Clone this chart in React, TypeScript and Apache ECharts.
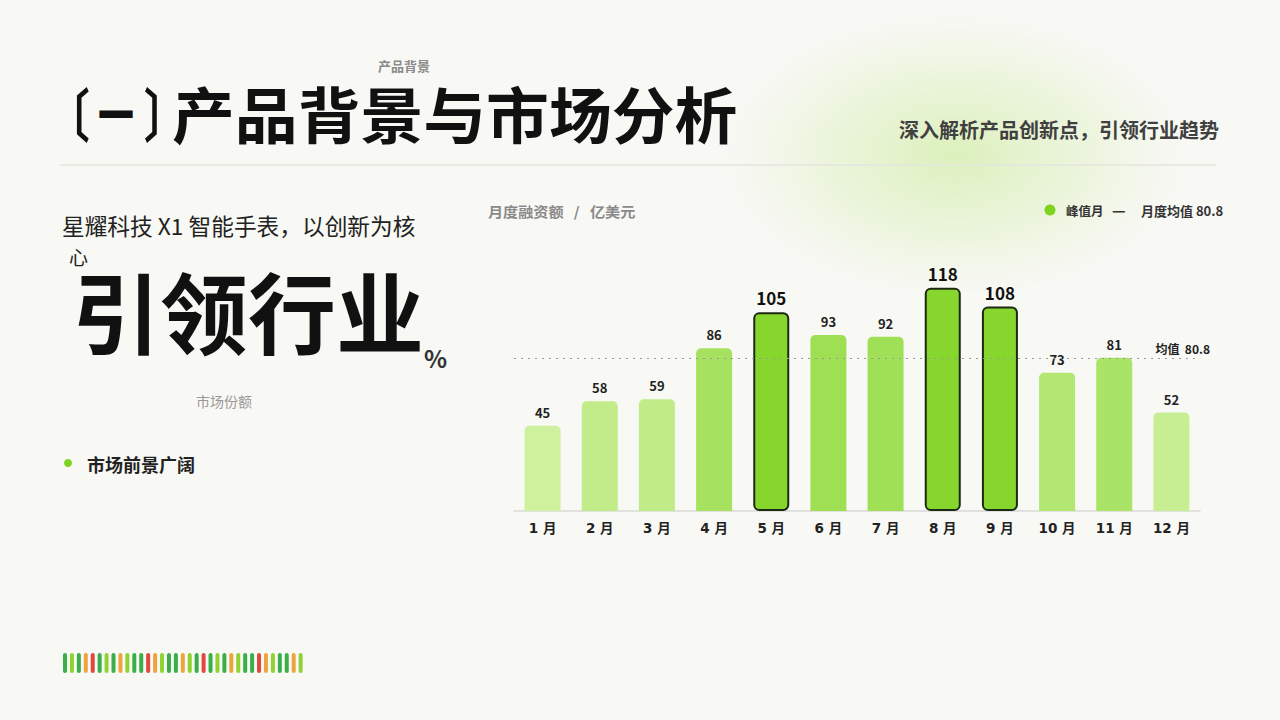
import React, { useEffect, useRef } from "react";
import * as echarts from "echarts";

const months = ["1 月", "2 月", "3 月", "4 月", "5 月", "6 月", "7 月", "8 月", "9 月", "10 月", "11 月", "12 月"];
const funding = [45, 58, 59, 86, 105, 93, 92, 118, 108, 73, 81, 52];
const peakMonths = ["5 月", "8 月", "9 月"];
const barcodePattern = ["D", "L", "D", "O", "R", "D", "L", "D", "O", "L", "D", "D", "R", "O", "L", "D", "D", "O", "L", "D", "R", "D", "L", "D", "O", "L", "D", "D", "R", "O", "L", "D", "D", "O", "L"];

const FONT = "'Noto Sans CJK SC', 'Noto Sans', sans-serif";
const AXIS_FONT = "'DejaVu Sans', 'Noto Sans CJK SC', sans-serif";
const average = funding.reduce((a, b) => a + b, 0) / funding.length;
const avgText = average.toFixed(1);

const LIGHT = [206, 241, 157];
const DARK = [134, 214, 46];
const minV = Math.min(...funding);
const maxV = Math.max(...funding);
function shade(v: number) {
  const t = (v - minV) / (maxV - minV);
  const c = LIGHT.map((l, i) => Math.round(l + (DARK[i] - l) * t));
  return `rgb(${c[0]},${c[1]},${c[2]})`;
}

const barcodeColors: Record<string, string> = { D: "#3aae48", L: "#8fd232", O: "#eea43e", R: "#e0473f" };

function txt(text: string, x: number, y: number, size: number, opts: any = {}) {
  const el: any = {
    type: "text",
    x,
    y,
    z: 10,
    style: {
      text,
      fontSize: size,
      fontFamily: opts.font || FONT,
      fontWeight: opts.weight || "normal",
      fill: opts.color || "#222",
      textAlign: opts.align || "left",
      textVerticalAlign: "middle",
    },
  };
  if (opts.lineHeight) el.style.lineHeight = opts.lineHeight;
  if (opts.scaleX) el.scaleX = opts.scaleX;
  return el;
}

export default function App() {
  const ref = useRef<HTMLDivElement>(null);
  useEffect(() => {
    if (!ref.current) return;
    const chart = echarts.init(ref.current, undefined, { renderer: "svg" });

    const graphics: any[] = [
      {
        type: "ellipse",
        z: 0,
        shape: { cx: 955, cy: 155, rx: 230, ry: 140 },
        style: {
          fill: new echarts.graphic.RadialGradient(0.5, 0.5, 0.5, [
            { offset: 0, color: "rgba(196,234,140,0.55)" },
            { offset: 0.6, color: "rgba(210,238,170,0.3)" },
            { offset: 1, color: "rgba(220,240,190,0)" },
          ]),
        },
      },
      txt("产品背景", 404, 65, 13, { color: "#8a8a8a", align: "center", weight: "bold" }),
      txt("〔", 48, 112, 58, { weight: "bold", color: "#111", scaleX: 0.72 }),
      txt("一", 98, 112, 58, { weight: "bold", color: "#111", scaleX: 0.62 }),
      txt("〕", 144, 112, 58, { weight: "bold", color: "#111", scaleX: 0.72 }),
      txt("产品背景与市场分析", 172, 112, 61, { weight: "bold", color: "#111", scaleX: 1.03 }),
      txt("深入解析产品创新点，引领行业趋势", 1219, 129, 20, { weight: "bold", color: "#404040", align: "right" }),
      {
        type: "line",
        z: 1,
        shape: { x1: 60, y1: 165, x2: 1216, y2: 165 },
        style: { stroke: "#e4e5df", lineWidth: 1.5 },
      },
      txt("星耀科技 X1 智能手表，以创新为核", 62, 225, 22.7, { color: "#222", lineHeight: 24 }),
      txt("心", 69, 256, 19, { color: "#222", lineHeight: 19 }),
      txt("引领行业", 72, 308, 88, { weight: "bold", color: "#111", lineHeight: 78 }),
      txt("%", 424, 357, 24, { color: "#333", weight: "bold" }),
      txt("市场份额", 196, 401, 14, { color: "#999" }),
      { type: "circle", z: 10, shape: { cx: 68, cy: 463, r: 4 }, style: { fill: "#7ed321" } },
      txt("市场前景广阔", 87, 464, 18, { weight: "bold", color: "#222" }),
      txt("月度融资额   /   亿美元", 488, 211, 14, { color: "#8a8a8a", weight: "bold", scaleX: 1.08 }),
      { type: "circle", z: 10, shape: { cx: 1050, cy: 210, r: 5.5 }, style: { fill: "#7ed321" } },
      txt("峰值月", 1066, 210, 12.5, { weight: "bold", color: "#333" }),
      txt("—", 1112, 209, 15, { weight: "bold", color: "#333" }),
      txt(`月度均值 ${avgText}`, 1141, 210, 13, { weight: "bold", color: "#333" }),
    ];

    barcodePattern.forEach((k, i) => {
      graphics.push({
        type: "rect",
        z: 10,
        shape: { x: 63 + i * 6.93, y: 653, width: 4, height: 20, r: 2 },
        style: { fill: barcodeColors[k] },
      });
    });

    const data = funding.map((v, i) => {
      const peak = peakMonths.includes(months[i]);
      return {
        value: v,
        itemStyle: peak
          ? { color: "#86d62e", borderColor: "#1c2a12", borderWidth: 2, borderRadius: 5 }
          : { color: shade(v), borderRadius: [5, 5, 0, 0] },
        label: peak
          ? { fontSize: 17, fontWeight: "bold", color: "#111", distance: 6 }
          : { fontSize: 13, fontWeight: "bold", color: "#222", distance: 7 },
      };
    });

    chart.setOption({
      animation: false,
      backgroundColor: "#f8f8f4",
      textStyle: { fontFamily: FONT },
      graphic: graphics,
      grid: { left: 514, right: 80, top: 246, bottom: 209 },
      xAxis: {
        type: "category",
        data: months,
        axisLine: { lineStyle: { color: "#d9d9d6", width: 1.5 } },
        axisTick: { show: false },
        axisLabel: { color: "#222", fontSize: 13.5, fontWeight: "bold", margin: 10, fontFamily: AXIS_FONT },
      },
      yAxis: { type: "value", min: 0, max: 140, show: false, splitLine: { show: false } },
      series: [
        {
          type: "bar",
          data,
          barWidth: 36,
          label: { show: true, position: "top", fontFamily: FONT },
          markLine: {
            silent: true,
            symbol: "none",
            lineStyle: { type: [2, 5], color: "#999", width: 1 },
            label: {
              show: true,
              position: "insideEndTop",
              formatter: `均值  ${avgText}`,
              color: "#222",
              fontSize: 12,
              fontWeight: "bold",
              fontFamily: FONT,
              distance: [-10, 4],
            },
            data: [{ yAxis: average }],
          },
        },
      ],
    });
    return () => chart.dispose();
  }, []);
  return <div ref={ref} style={{ position: "fixed", left: 0, top: 0, width: 1280, height: 720 }} />;
}
